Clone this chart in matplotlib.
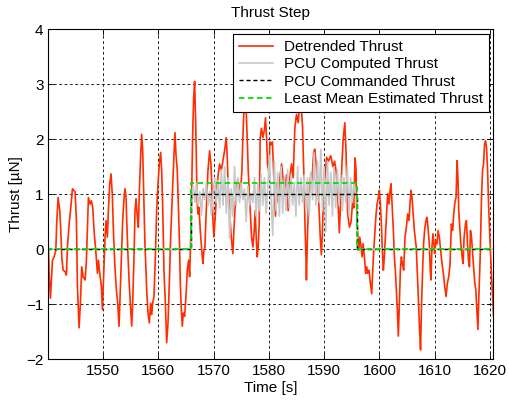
import numpy as np
import matplotlib.pyplot as plt

plt.rcParams['font.family'] = ['Liberation Sans', 'DejaVu Sans']
plt.rcParams['font.size'] = 11

# Detrended thrust measurement [s], [uN]
t_meas = [
    1539.9, 1540.12, 1540.24, 1540.48, 1540.84, 1541.14, 1541.45, 1541.63, 1541.87, 1542.17,
    1542.35, 1542.53, 1542.77, 1543.13, 1543.37, 1543.55, 1543.86, 1544.16, 1544.46, 1544.94,
    1545.18, 1545.36, 1545.66, 1545.90, 1546.14, 1546.39, 1546.75, 1546.99, 1547.17, 1547.35,
    1547.65, 1547.89, 1548.13, 1548.37, 1548.67, 1548.98, 1549.16, 1549.40, 1549.70, 1549.88,
    1550.18, 1550.36, 1550.54, 1550.78, 1550.96, 1551.20, 1551.45, 1551.69, 1551.87, 1552.11,
    1552.41, 1552.65, 1552.89, 1553.13, 1553.37, 1553.55, 1553.80, 1553.98, 1554.16, 1554.28,
    1554.52, 1554.76, 1555.00, 1555.18, 1555.36, 1555.60, 1555.78, 1555.96, 1556.20, 1556.39,
    1556.57, 1556.81, 1556.99, 1557.17, 1557.41, 1557.59, 1557.77, 1557.89, 1558.13, 1558.37,
    1558.61, 1558.80, 1558.98, 1559.22, 1559.46, 1559.70, 1559.94, 1560.18, 1560.42, 1560.60,
    1560.78, 1561.02, 1561.27, 1561.51, 1561.75, 1561.99, 1562.23, 1562.47, 1562.71, 1563.01,
    1563.19, 1563.43, 1563.61, 1563.80, 1563.98, 1564.16, 1564.34, 1564.52, 1564.76, 1565.00,
    1565.24, 1565.48, 1565.66, 1565.84, 1566.02, 1566.20, 1566.39, 1566.57, 1566.75, 1566.87,
    1566.99, 1567.17, 1567.35, 1567.59, 1567.77, 1567.95, 1568.07, 1568.25, 1568.43, 1568.67,
    1568.98, 1569.28, 1569.52, 1569.76, 1569.88, 1570.06, 1570.18, 1570.36, 1570.60, 1570.78,
    1571.08, 1571.39, 1571.69, 1571.99, 1572.29, 1572.47, 1572.65, 1572.89, 1573.19, 1573.49,
    1573.67, 1573.86, 1574.10, 1574.34, 1574.58, 1574.82, 1575.12, 1575.30, 1575.48, 1575.66,
    1575.78, 1575.90, 1576.08, 1576.27, 1576.51, 1576.69, 1576.87, 1577.11, 1577.35, 1577.53,
    1577.71, 1577.89, 1578.07, 1578.25, 1578.43, 1578.67, 1578.92, 1579.16, 1579.40, 1579.58,
    1579.76, 1580.00, 1580.20, 1580.45, 1580.65, 1580.90, 1581.20, 1581.45, 1581.70, 1582.00,
    1582.30, 1582.60, 1582.90, 1583.20, 1583.50, 1583.80, 1584.10, 1584.40, 1584.70, 1585.00,
    1585.30, 1585.60, 1585.85, 1586.10, 1586.35, 1586.55, 1586.70, 1586.80, 1587.00, 1587.20,
    1587.39, 1587.60, 1587.80, 1588.10, 1588.30, 1588.60, 1588.90, 1589.10, 1589.30, 1589.50,
    1589.70, 1589.90, 1590.20, 1590.45, 1590.80, 1591.20, 1591.60, 1591.90, 1592.20, 1592.50,
    1592.75, 1593.00, 1593.20, 1593.45, 1593.75, 1593.98, 1594.16, 1594.28, 1594.58, 1594.88,
    1595.18, 1595.36, 1595.60, 1595.78, 1595.90, 1596.08, 1596.27, 1596.45, 1596.69, 1596.87,
    1597.05, 1597.29, 1597.53, 1597.71, 1597.89, 1598.13, 1598.37, 1598.61, 1598.80, 1598.98,
    1599.22, 1599.40, 1599.58, 1599.82, 1600.00, 1600.18, 1600.36, 1600.54, 1600.72, 1600.90,
    1601.08, 1601.33, 1601.51, 1601.75, 1601.93, 1602.11, 1602.29, 1602.53, 1602.71, 1602.89,
    1603.07, 1603.25, 1603.43, 1603.61, 1603.80, 1603.98, 1604.16, 1604.40, 1604.64, 1604.88,
    1605.12, 1605.36, 1605.54, 1605.72, 1605.90, 1606.08, 1606.33, 1606.67, 1606.85, 1607.09,
    1607.27, 1607.45, 1607.64, 1607.82, 1608.00, 1608.18, 1608.42, 1608.61, 1608.79, 1609.03,
    1609.21, 1609.33, 1609.52, 1609.70, 1609.88, 1610.00, 1610.24, 1610.42, 1610.61, 1610.85,
    1611.09, 1611.33, 1611.58, 1611.82, 1612.06, 1612.30, 1612.55, 1612.79, 1613.03, 1613.27,
    1613.45, 1613.64, 1613.88, 1614.06, 1614.24, 1614.36, 1614.55, 1614.73, 1614.97, 1615.15,
    1615.33, 1615.58, 1615.76, 1615.94, 1616.12, 1616.30, 1616.48, 1616.67, 1616.91, 1617.09,
    1617.27, 1617.45, 1617.64, 1617.82, 1618.00, 1618.24, 1618.48, 1618.67, 1618.85, 1619.03,
    1619.21, 1619.39, 1619.58, 1619.76, 1619.94, 1620.12, 1620.30, 1620.48, 1620.67,
]
thrust_meas = [
    0.04, 0.04, -0.44, -0.89, -0.20, -0.14, -0.02, 0.52, 0.94, 0.70,
    0.34, -0.14, -0.38, -0.41, -0.47, 0.04, 0.46, 0.76, 1.10, 1.04,
    0.52, -0.68, -1.43, -0.98, -0.32, -0.50, -0.56, -0.20, 0.34, 0.94,
    0.82, 0.88, 0.76, 0.34, -0.02, -0.44, -0.20, -0.44, -0.68, -1.10,
    -0.26, 0.22, 0.52, 0.22, 0.70, 1.19, 1.37, 0.95, 0.34, -0.26,
    -0.74, -0.98, -1.40, -0.68, 0.10, 0.52, 0.94, 1.10, 0.94, 0.52,
    -0.14, -0.68, -1.10, -1.40, -0.98, -0.14, 0.70, 0.92, 0.58, 0.40,
    1.07, 1.73, 2.09, 1.79, 0.83, 0.04, -0.38, -0.74, -1.16, -1.34,
    -0.98, -1.19, -0.98, -0.86, -0.14, 0.70, 1.19, 1.55, 1.76, 1.43,
    0.83, -0.38, -0.98, -1.70, -1.34, -0.62, 0.22, 0.83, 1.43, 2.12,
    1.73, 1.43, 0.83, 0.22, -0.62, -1.10, -1.40, -1.16, -1.22, -0.86,
    -0.38, -0.20, -0.50, 0.10, 0.94, 2.03, 2.75, 3.05, 2.33, 1.73,
    0.95, 0.64, 0.76, 0.34, 0.10, -0.14, -0.26, -0.02, 0.04, 0.70,
    1.43, 1.79, 1.55, 0.95, 0.52, 0.22, 0.40, 0.70, 1.13, 1.31,
    1.55, 1.43, 1.61, 1.79, 2.03, 1.67, 1.13, 0.70, 0.22, -0.08,
    0.34, 0.70, 1.07, 1.25, 1.19, 0.95, 1.43, 2.03, 2.51, 2.87,
    2.90, 2.51, 2.03, 1.43, 0.95, 0.58, 0.22, 0.04, 0.34, 0.70,
    0.22, -0.14, 0.04, 0.46, 2.03, 2.20, 2.03, 2.15, 2.39, 2.03,
    1.55, 1.40, 1.95, 1.90, 1.95, 1.30, 0.60, 1.20, 0.85, 1.30,
    1.55, 1.25, 1.10, 1.35, 0.70, 1.30, 1.55, 1.30, 2.20, 2.45,
    2.30, 2.70, 2.65, 2.20, 1.30, 0.40, -0.10, -0.56, 0.30, 0.90,
    1.10, 1.37, 1.25, 1.75, 1.82, 1.50, 1.10, 0.70, 0.22, -0.10,
    0.30, 1.10, 1.35, 1.67, 1.60, 1.70, 1.50, 1.60, 1.40, 0.90,
    0.30, 0.90, 1.50, 2.00, 2.30, 1.73, 0.95, 0.64, 0.40, 0.50,
    0.90, 0.75, 1.66, 1.43, 0.70, 0.22, -0.02, 0.22, 0.04, -0.14,
    0.10, -0.14, -0.44, -0.32, -0.44, -0.38, -0.62, -0.81, -0.38, -0.02,
    0.34, 0.64, 0.82, 0.95, 1.07, 0.82, 0.46, -0.02, -0.38, -0.14,
    0.22, 0.70, 1.01, 0.82, 1.07, 1.19, 0.82, 0.34, -0.14, -0.38,
    -0.74, -1.10, -1.58, -0.98, -0.38, -0.14, -0.26, -0.38, 0.22, 0.40,
    0.64, 0.52, 0.82, 1.07, 0.95, 0.70, 0.34, 0.04, -0.38, -0.98,
    -1.46, -1.83, -0.98, -0.38, 0.10, 0.34, 0.52, 0.58, 0.40, 0.10,
    -0.38, -0.56, 0.04, 0.28, 0.10, -0.08, 0.16, 0.10, 0.34, 0.22,
    -0.02, -0.26, -0.44, -0.68, -0.86, -0.62, -0.50, -0.26, 0.46, 0.34,
    0.64, 0.83, 0.95, 1.61, 1.25, 0.70, 0.40, 0.10, -0.14, -0.26,
    0.22, 0.46, 0.52, 0.10, -0.20, -0.32, 0.34, 0.22, -0.14, -0.38,
    -0.62, -0.74, -1.10, -1.46, -0.86, -0.14, 0.95, 1.43, 1.55, 1.91,
    1.97, 1.85, 1.43, 0.83, 0.34, -0.08, -0.50, -0.86, -1.22,
]

# PCU computed thrust during the step, sampled every pcu_dt seconds
pcu_start = 1566.0
pcu_dt = 0.3
pcu_values = [
    1.00, 1.15, 0.85, 1.20, 0.80, 1.05, 0.62, 1.10, 0.90, 1.20,
    0.80, 1.05, 0.62, 1.00, 1.30, 0.85, 1.25, 0.75, 1.45, 0.80,
    1.50, 0.65, 1.30, 0.20, 1.10, 0.60, 1.50, 0.80, 1.30, 0.85,
    1.20, 0.90, 1.10, 0.50, 1.15, 0.80, 1.00, 0.85, 1.30, 0.60,
    1.20, 0.70, 1.35, 0.80, 1.30, 0.65, 1.10, 1.70, 0.90, 0.25,
    1.60, 0.70, 1.40, 0.60, 1.50, 0.65, 1.30, 0.70, 1.45, 0.75,
    1.35, 0.80, 1.20, 0.60, 1.50, 0.80, 1.30, 0.85, 1.35, 0.70,
    1.30, 0.60, 1.40, 0.90, 1.75, 0.80, 1.60, 0.85, 1.82, 0.70,
    1.50, 0.31, 1.60, 0.80, 1.40, 0.60, 1.50, 0.75, 1.45, 0.80,
    1.35, 0.70, 1.30, 0.85, 1.50, 0.60, 1.30, 0.85, 1.20, 1.00,
    1.00,
]

# Step timing and levels
t_begin, t_end = 1539.9, 1620.7
step_on, step_off = 1566.0, 1596.0
commanded_level = 1.0
estimated_level = 1.2

pcu_t = pcu_start + pcu_dt * np.arange(len(pcu_values))
pcu_t_full = np.concatenate([[t_begin, step_on], pcu_t, [step_off, t_end]])
pcu_full = np.concatenate([[0.0, 0.0], pcu_values, [0.0, 0.0]])

step_t = [t_begin, step_on, step_on, step_off, step_off, t_end]
cmd = [0, 0, commanded_level, commanded_level, 0, 0]
est = [0, 0, estimated_level, estimated_level, 0, 0]

fig = plt.figure(figsize=(5.09, 4.0), dpi=100)
ax = fig.add_axes([0.095, 0.102, 0.874, 0.825])

ax.plot(t_meas, thrust_meas, color='#ff2d00', lw=1.2, label='Detrended Thrust')
ax.plot(pcu_t_full, pcu_full, color='#c8c8c8', lw=1.2, label='PCU Computed Thrust')
ax.plot(step_t, cmd, color='k', lw=1.0, linestyle=(0, (3, 2)), label='PCU Commanded Thrust')
ax.plot(step_t, est, color='#00e000', lw=1.3, linestyle=(0, (3, 2)),
        label='Least Mean Estimated Thrust')

ax.set_xlim(1540.1, 1620.6)
ax.set_ylim(-2, 4)
ax.set_xticks(np.arange(1550, 1621, 10))
ax.set_yticks(np.arange(-2, 5, 1))
ax.grid(True, color='0.15', linestyle=(0, (3, 2.5)), lw=0.7)
ax.tick_params(direction='in', top=True, right=True, length=4, width=0.6)
for s in ax.spines.values():
    s.set_linewidth(0.8)

ax.set_title('Thrust Step', fontsize=11, pad=9)
ax.set_xlabel('Time [s]', labelpad=2)
ax.set_ylabel('Thrust [µN]', labelpad=2)

leg = ax.legend(loc='upper right', bbox_to_anchor=(0.991, 0.986), borderaxespad=0,
                fancybox=False, edgecolor='k', framealpha=1, handlelength=2.2,
                handletextpad=0.75, labelspacing=0.22, borderpad=0.4)
leg.get_frame().set_linewidth(0.8)

fig.savefig('out.png', dpi=100)
